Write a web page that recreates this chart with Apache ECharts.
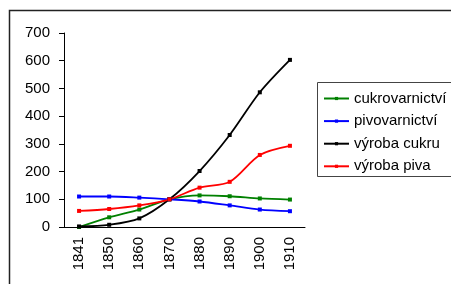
<!DOCTYPE html>
<html>
<head>
<meta charset="utf-8">
<script src="https://cdn.jsdelivr.net/npm/echarts@6/dist/echarts.min.js"></script>
<style>
  html, body { margin: 0; padding: 0; background: #fff; }
  #chart { width: 451px; height: 284px; }
</style>
</head>
<body>
<div id="chart"></div>
<script>
const years = ['1841', '1850', '1860', '1870', '1880', '1890', '1900', '1910']
const cukrovarnictvi = [0, 35, 63, 100, 114, 111, 103, 99]
const pivovarnictvi = [110, 110, 106, 100, 92, 78, 63, 57]
const vyrobaCukru = [2, 8, 31, 100, 202, 332, 486, 603]
const vyrobaPiva = [58, 65, 78, 100, 142, 163, 260, 293]
const yTicks = { min: 0, max: 700, interval: 100 }

const font = 'Liberation Sans, Arial, sans-serif'

const chart = echarts.init(document.getElementById('chart'))

const makeSeries = (name, data, color) => ({
  name: name,
  type: 'line',
  data: data,
  smooth: 0.3,
  symbol: 'rect',
  symbolSize: 4,
  showSymbol: true,
  lineStyle: { color: color, width: 1.8 },
  itemStyle: { color: color },
  emphasis: { disabled: true }
})

chart.setOption({
  animation: false,
  graphic: [
    {
      type: 'rect',
      shape: { x: 9.5, y: 10.5, width: 500, height: 300 },
      style: { fill: 'none', stroke: '#222', lineWidth: 1.5 }
    },
    {
      type: 'rect',
      shape: { x: 317.5, y: 82.5, width: 140, height: 94 },
      style: { fill: 'none', stroke: '#444', lineWidth: 1 }
    }
  ],
  grid: { left: 64, right: 146, top: 33, bottom: 57 },
  legend: {
    orient: 'vertical',
    left: 318,
    top: 86,
    itemWidth: 25,
    itemHeight: 4,
    itemGap: 7.6,
    textStyle: { fontFamily: font, fontSize: 15, color: '#000' },
    data: ['cukrovarnictví', 'pivovarnictví', 'výroba cukru', 'výroba piva']
  },
  xAxis: {
    type: 'category',
    data: years,
    boundaryGap: true,
    axisLine: { lineStyle: { color: '#000', width: 1 } },
    axisTick: { length: 5, lineStyle: { color: '#000' } },
    axisLabel: { rotate: 90, margin: 10, fontFamily: font, fontSize: 15, color: '#000' }
  },
  yAxis: {
    type: 'value',
    min: yTicks.min,
    max: yTicks.max,
    interval: yTicks.interval,
    splitLine: { show: false },
    axisLine: { show: true, lineStyle: { color: '#000', width: 1 } },
    axisTick: { show: true, length: 5, lineStyle: { color: '#000' } },
    axisLabel: { margin: 14, fontFamily: font, fontSize: 15, color: '#000' }
  },
  series: [
    makeSeries('cukrovarnictví', cukrovarnictvi, '#008000'),
    makeSeries('pivovarnictví', pivovarnictvi, '#0000ff'),
    makeSeries('výroba cukru', vyrobaCukru, '#000000'),
    makeSeries('výroba piva', vyrobaPiva, '#ff0000')
  ]
})
</script>
</body>
</html>
